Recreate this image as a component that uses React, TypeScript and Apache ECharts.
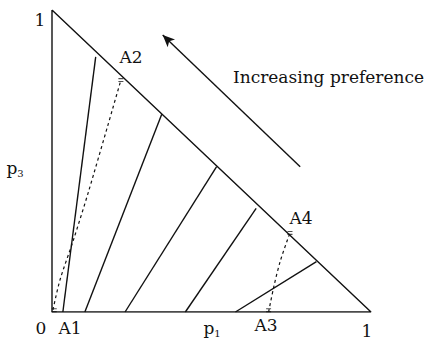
import React, { useEffect, useRef } from "react";
import * as echarts from "echarts";

// Probability triangle: p1 on the horizontal axis, p3 on the vertical axis.
const triangle: [number, number][] = [
  [0, 1],
  [0, 0],
  [1, 0],
  [0, 1],
];

// Indifference lines: where each meets p3 = 0, and its upper end.
const indiffBottomP1 = [0.034, 0.103, 0.229, 0.418, 0.575];
const indiffTop: [number, number][] = [
  [0.137, 0.845],
  [0.344, 0.655],
  [0.516, 0.481],
  [0.64, 0.343],
  [0.829, 0.167],
];

// Dashed curves joining A1 to A2 and A3 to A4.
const curveA1A2: [number, number][] = [
  [0.003, 0.007],
  [0.025, 0.106],
  [0.067, 0.238],
  [0.116, 0.404],
  [0.216, 0.768],
];
const curveA3A4: [number, number][] = [
  [0.679, 0.0],
  [0.695, 0.082],
  [0.716, 0.17],
  [0.746, 0.262],
];

// Small tick marks at the curve ends.
const endMarks: [number, number][] = [
  [0.216, 0.768],
  [0.746, 0.262],
  [0.679, 0.006],
  [0.007, 0.006],
];

// Direction of increasing preference: tail, then head.
const prefArrow: [number, number][] = [
  [0.778, 0.481],
  [0.347, 0.917],
];

const FONT = "DejaVu Serif";

export default function App() {
  const ref = useRef<HTMLDivElement>(null);

  useEffect(() => {
    if (!ref.current) return;
    document.body.style.margin = "0";
    const chart = echarts.init(ref.current, undefined, { renderer: "svg" });

    const solid = { color: "#111", width: 1.4, type: "solid" as const };
    const dashed = { color: "#111", width: 1.2, type: [3, 3] as number[] };

    const series: any[] = [
      {
        type: "line",
        data: triangle,
        symbol: "none",
        lineStyle: solid,
        silent: true,
        markLine: {
          silent: true,
          symbol: ["none", "arrow"],
          symbolSize: [8, 12],
          label: { show: false },
          lineStyle: { color: "#111", width: 1.4, type: "solid" },
          data: [[{ coord: prefArrow[0] }, { coord: prefArrow[1] }]],
        },
      },
      ...indiffBottomP1.map((b, i) => ({
        type: "line",
        data: [[b, 0], indiffTop[i]],
        symbol: "none",
        lineStyle: solid,
        silent: true,
      })),
      {
        type: "line",
        data: curveA1A2,
        smooth: 0.3,
        symbol: "none",
        lineStyle: dashed,
        silent: true,
      },
      {
        type: "line",
        data: curveA3A4,
        smooth: 0.3,
        symbol: "none",
        lineStyle: dashed,
        silent: true,
      },
      {
        type: "scatter",
        data: endMarks,
        symbol: "path://M0,0h6v1.2h-6z M0,3h6v1.2h-6z",
        symbolSize: [5, 4],
        itemStyle: { color: "#222" },
        silent: true,
      },
    ];

    const txt = (text: string, x: number, y: number, size = 17, align = "center") => ({
      type: "text",
      x,
      y,
      style: {
        text,
        fontFamily: FONT,
        fontSize: size,
        fill: "#111",
        align,
        verticalAlign: "middle",
      },
      silent: true,
    });

    // "p" with a lowered subscript digit
    const psub = (digit: string, x: number, y: number) => ({
      type: "text",
      x,
      y,
      style: {
        text: `{p|p}{s|${digit}}`,
        fontFamily: FONT,
        fill: "#111",
        align: "center",
        verticalAlign: "middle",
        rich: {
          p: { fontFamily: FONT, fontSize: 17, fill: "#111", verticalAlign: "bottom" },
          s: {
            fontFamily: FONT,
            fontSize: 10,
            fill: "#111",
            verticalAlign: "bottom",
            padding: [0, 0, -2, 0],
          },
        },
      },
      silent: true,
    });

    chart.setOption({
      animation: false,
      backgroundColor: "#fff",
      grid: { left: 52, right: 54, top: 10, bottom: 35 },
      xAxis: { type: "value", min: 0, max: 1, show: false },
      yAxis: { type: "value", min: 0, max: 1, show: false },
      series,
      graphic: [
        txt("1", 40, 20),
        psub("3", 15, 168),
        txt("0", 41, 328),
        txt("A1", 70, 328),
        psub("1", 212, 328),
        txt("A3", 266, 325),
        txt("1", 367, 331),
        txt("A2", 131, 57),
        txt("A4", 301, 218),
        txt("Increasing preference", 233, 77, 17, "left"),
      ],
    });

    return () => chart.dispose();
  }, []);

  return <div ref={ref} style={{ width: 425, height: 347 }} />;
}
